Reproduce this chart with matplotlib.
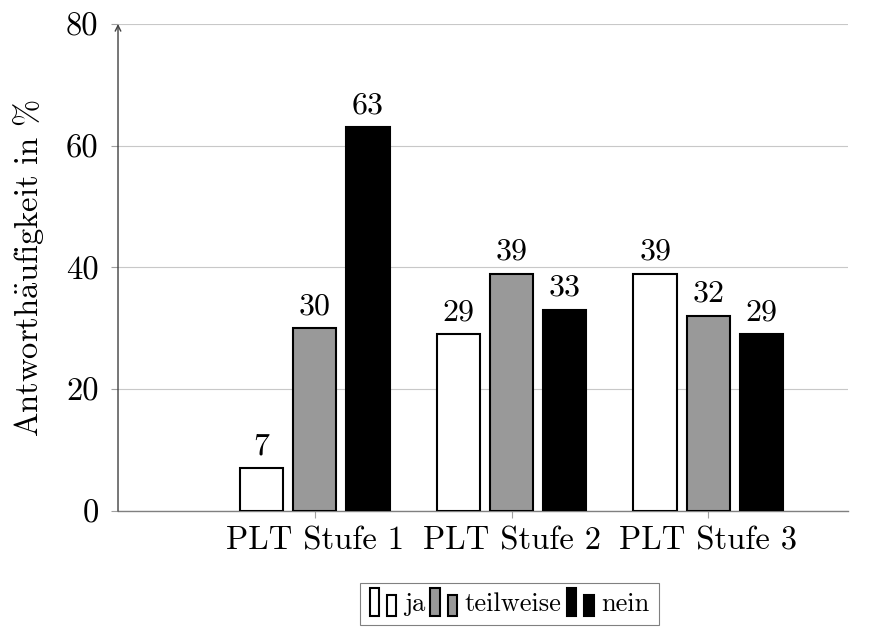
import matplotlib
matplotlib.use("Agg")
import matplotlib.pyplot as plt
import numpy as np
from matplotlib.patches import Rectangle
from matplotlib.legend_handler import HandlerBase

# data
categories = ["PLT Stufe 1", "PLT Stufe 2", "PLT Stufe 3"]
series_names = ["ja", "teilweise", "nein"]
ja = [7, 29, 39]
teilweise = [30, 39, 32]
nein = [63, 33, 29]
series_colors = ["white", "#999999", "black"]

plt.rcParams["font.family"] = ["cmr10", "DejaVu Serif"]
plt.rcParams["mathtext.fontset"] = "cm"
plt.rcParams["axes.unicode_minus"] = False


class TwoBarHandler(HandlerBase):
    # pgfplots-style ybar legend image: two small bars
    def create_artists(self, legend, orig_handle, xdescent, ydescent,
                       width, height, fontsize, trans):
        fc = orig_handle.get_facecolor()
        w = width * 0.32
        r1 = Rectangle((-xdescent, -ydescent - 0.3 * height), w, height * 1.55,
                       facecolor=fc, edgecolor="black", lw=1.5, transform=trans)
        r2 = Rectangle((-xdescent + width * 0.6, -ydescent - 0.3 * height), w, height * 1.15,
                       facecolor=fc, edgecolor="black", lw=1.5, transform=trans)
        return [r1, r2]


fig = plt.figure(figsize=(8.94, 6.28), dpi=100)
ax = fig.add_axes([0.132, 0.1863, 0.8165, 0.7755])

x = np.arange(1, len(categories) + 1)
bw = 0.22
step = 0.27
handles = []
for i, (vals, name, col) in enumerate(zip([ja, teilweise, nein], series_names, series_colors)):
    bars = ax.bar(x + (i - 1) * step, vals, width=bw, color=col, edgecolor="black",
                  linewidth=1.5, label=name, zorder=3)
    handles.append(bars[0])
    for xi, v in zip(x + (i - 1) * step, vals):
        ax.annotate(str(v), (xi, v), xytext=(0, 6), textcoords="offset points",
                    ha="center", va="bottom", fontsize=23)

ax.set_xlim(0, 3.71)
ax.set_ylim(0, 80)
ax.set_yticks([0, 20, 40, 60, 80])
ax.set_xticks(x)
ax.set_xticklabels(categories)
ax.tick_params(axis="both", labelsize=23.5, color="#a0a0a0", length=5, width=0.8)
ax.tick_params(axis="y", pad=9)
ax.tick_params(axis="x", pad=6)
ax.grid(axis="y", color="#c8c8c8", linewidth=0.8, zorder=0)
ax.set_axisbelow(True)

for s in ["top", "right", "left"]:
    ax.spines[s].set_visible(False)
ax.spines["bottom"].set_color("#808080")
ax.spines["bottom"].set_linewidth(1.0)

ax.annotate("", xy=(0, 1.0), xytext=(0, 0), xycoords="axes fraction",
            arrowprops=dict(arrowstyle="->", color="#404040", lw=1.0,
                            shrinkA=0, shrinkB=0), zorder=5)

ax.set_ylabel(r"Antworth$\ddot{\mathrm{a}}$ufigkeit in %", fontsize=23.5, labelpad=14)

leg = fig.legend(handles, series_names, loc="upper center",
                 bbox_to_anchor=(0.570, 0.072), ncol=3, fontsize=19,
                 handler_map={h: TwoBarHandler() for h in handles},
                 handlelength=1.1, handletextpad=0.2, columnspacing=0.2,
                 borderpad=0.35, borderaxespad=0, fancybox=False,
                 edgecolor="#808080", framealpha=1)
leg.get_frame().set_linewidth(0.8)

fig.savefig("out.png", dpi=100)
